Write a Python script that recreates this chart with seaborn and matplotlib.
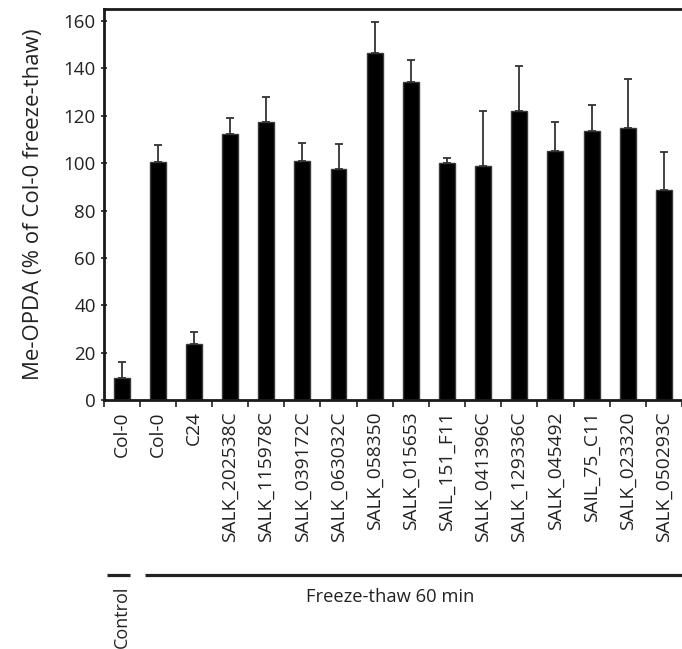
import matplotlib
matplotlib.use("Agg")
import matplotlib.pyplot as plt
import matplotlib.transforms as mtransforms
import seaborn as sns
import pandas as pd
import numpy as np

labels = ["Col-0", "Col-0", "C24", "SALK_202538C", "SALK_115978C", "SALK_039172C",
          "SALK_063032C", "SALK_058350", "SALK_015653", "SAIL_151_F11", "SALK_041396C",
          "SALK_129336C", "SALK_045492", "SAIL_75_C11", "SALK_023320", "SALK_050293C"]
groups = ["Control"] + ["Freeze-thaw 60 min"] * 15
values = [9.4, 100.6, 23.8, 112.2, 117.3, 100.8, 97.6, 146.4, 134.3, 100.0,
          98.9, 122.2, 105.3, 113.8, 114.9, 88.6]
err_top = [16.2, 107.9, 28.6, 118.9, 128.0, 108.6, 108.0, 159.5, 143.7, 102.2,
           122.0, 141.2, 117.2, 124.7, 135.4, 104.8]
yticks = [0, 20, 40, 60, 80, 100, 120, 140, 160]
ylabel = "Me-OPDA (% of Col-0 freeze-thaw)"

sns.set_theme(style="ticks")
plt.rcParams['font.family'] = ['Open Sans', 'DejaVu Sans']

df = pd.DataFrame({
    "key": [f"{g}|{l}" for g, l in zip(groups, labels)],
    "label": labels,
    "value": values,
    "err": np.array(err_top) - np.array(values),
})

W, H = 682, 649
fig = plt.figure(figsize=(W / 100, H / 100), dpi=100)
ax = fig.add_axes([103.5 / W, (H - 400) / H, (682 - 103.5) / W, (400 - 9.3) / H])

sns.barplot(data=df, x="key", y="value", order=list(df["key"]), color="black",
            width=0.44, errorbar=None, edgecolor="#3a3a3a", linewidth=1.0,
            saturation=1, ax=ax)
pos = np.arange(len(df))
ax.errorbar(pos, df["value"], yerr=[np.zeros(len(df)), df["err"]], fmt="none",
            ecolor="#333333", elinewidth=1.3, capsize=3.2, capthick=1.3, zorder=1)

ax.set_xlim(-0.5, len(df) - 0.5)
ax.set_ylim(0, 165)
ax.set_yticks(yticks)
ax.set_yticklabels([str(t) for t in yticks], fontsize=13.5, color="#222222")
ax.set_xticks(pos)
ax.set_xticklabels(labels, rotation=90, fontsize=13.8, color="#222222")
ax.tick_params(axis="x", which="major", length=0, pad=8)
ax.set_xticks(np.arange(len(df) + 1) - 0.5, minor=True)
ax.tick_params(axis="x", which="minor", length=5, width=1.2, direction="out", color="#222222")
ax.tick_params(axis="y", length=5, width=1.2, direction="inout", color="#222222", pad=3)
ax.set_xlabel("")
ax.set_ylabel(ylabel, fontsize=16, color="#222222", labelpad=14)

for s in ["left", "bottom", "top"]:
    ax.spines[s].set_linewidth(2.0)
    ax.spines[s].set_color("#1a1a1a")
ax.spines["right"].set_visible(False)

trans = mtransforms.blended_transform_factory(ax.transData, fig.transFigure)
yline = (H - 574.5) / H
ax.plot([-0.40, 0.23], [yline, yline], transform=trans, color="#222222", lw=2.3,
        clip_on=False, solid_capstyle="butt")
ax.plot([0.65, 15.5], [yline, yline], transform=trans, color="#222222", lw=2.3,
        clip_on=False, solid_capstyle="butt")
ax.text(0.0, (H - 586) / H, "Control", transform=trans, rotation=90, ha="center",
        va="top", fontsize=13, color="#222222")
ax.text(7.42, (H - 597.5) / H, "Freeze-thaw 60 min", transform=trans, ha="center",
        va="center", fontsize=13.2, color="#222222")

fig.savefig("out.png", dpi=100)
